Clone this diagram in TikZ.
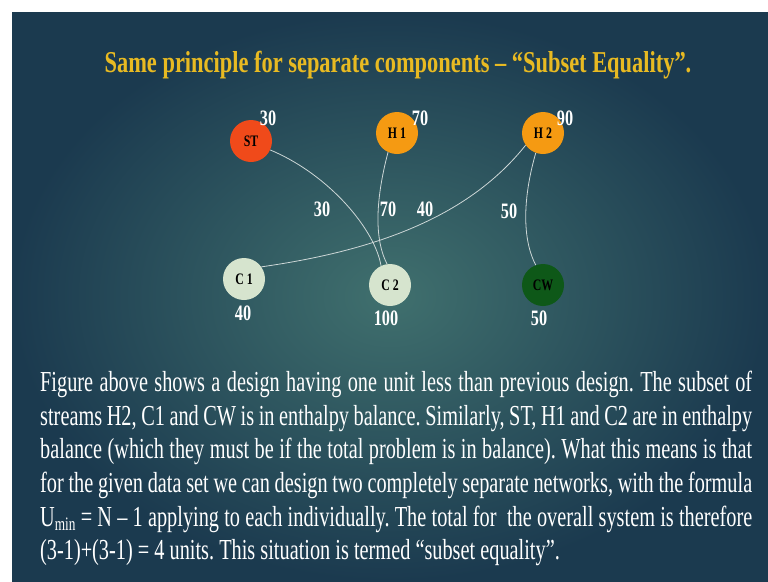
\documentclass[tikz,border=0pt]{standalone}
\usepackage{fontspec}
\setmainfont{Liberation Serif}
\newfontfamily\slidefont[FakeStretch=0.74]{Liberation Serif}
\newfontfamily\notefont[FakeStretch=0.70]{Liberation Serif}
\definecolor{bgin}{RGB}{64,112,110}
\definecolor{bgout}{RGB}{27,58,79}
\definecolor{titlecol}{RGB}{232,186,34}
\definecolor{stcol}{RGB}{240,74,26}
\definecolor{hotcol}{RGB}{245,154,18}
\definecolor{coldcol}{RGB}{214,228,206}
\definecolor{cwcol}{RGB}{14,88,24}
\definecolor{linecol}{RGB}{205,215,215}

\begin{document}
\begin{tikzpicture}[x=1pt,y=-1pt,
  stream/.style={circle,minimum size=42pt,inner sep=0pt,text=black,
    font=\slidefont\bfseries\fontsize{16}{16}\selectfont},
  load/.style={text=white,inner sep=0pt,
    font=\slidefont\bfseries\fontsize{22}{22}\selectfont},
  match/.style={draw=linecol,line width=0.8pt}]
\useasboundingbox (0,0) rectangle (768,581);
% Hintergrund
\fill[white] (0,0) rectangle (768,581);
\shade[inner color=bgin,outer color=bgout] (12,12) rectangle (768,581);
% Titel
\node[text=titlecol,font=\slidefont\bfseries\fontsize{30.3}{30.3}\selectfont] (title) at (398,65)
  {Same principle for separate components – “Subset Equality”.};
% Stroeme
\node[stream,fill=stcol] (st) at (251,141) {ST};
\node[stream,fill=hotcol] (h1) at (397,133) {H 1};
\node[stream,fill=hotcol] (h2) at (543,133) {H 2};
\node[stream,fill=coldcol] (c1) at (244,279) {C 1};
\node[stream,fill=coldcol] (c2) at (390,285) {C 2};
\node[stream,fill=cwcol] (cw) at (543,285) {CW};
% Waermelasten an den Stroemen
\node[load] (qst) at (268,118) {30};
\node[load] (qh1) at (420,118) {70};
\node[load] (qh2) at (565,118) {90};
\node[load] (qc1) at (243,313) {40};
\node[load] (qc2) at (386,318) {100};
\node[load] (qcw) at (539,318) {50};
% Verbindungen (Waermetauscher)
\draw[match] (st.-25) .. controls (330,175) and (375,230) .. (c2.115);
\draw[match] (h1.-115) .. controls (378,190) and (372,235) .. (c2.98);
\draw[match] (h2.-145) .. controls (470,215) and (380,250) .. (c1.35);
\draw[match] (h2.-110) .. controls (525,190) and (520,235) .. (cw.110);
% Lasten der Tauscher
\node[load] (e1) at (322,209) {30};
\node[load] (e2) at (388,209) {70};
\node[load] (e3) at (425,209) {40};
\node[load] (e4) at (509,211) {50};
% Erlaeuterung
\node[text=white,anchor=north west,inner sep=0pt,text width=712pt,align=justify,
  font=\notefont\fontsize{29}{33.6}\selectfont\frenchspacing] (note) at (40,371)
  {\hyphenpenalty=10000\relax
   Figure above shows a design having one unit less than previous design. The subset of\linebreak
   streams H2, C1 and CW is in enthalpy balance. Similarly, ST, H1 and C2 are in enthalpy\linebreak
   balance (which they must be if the total problem is in balance). What this means is that\linebreak
   for the given data set we can design two completely separate networks, with the formula\linebreak
   U\raisebox{-0.35ex}{\fontsize{19}{19}\selectfont min} = N – 1 applying to each individually. The total for \ the overall system is therefore\linebreak
   (3-1)+(3-1) = 4 units. This situation is termed “subset equality”.};
\end{tikzpicture}
\end{document}
